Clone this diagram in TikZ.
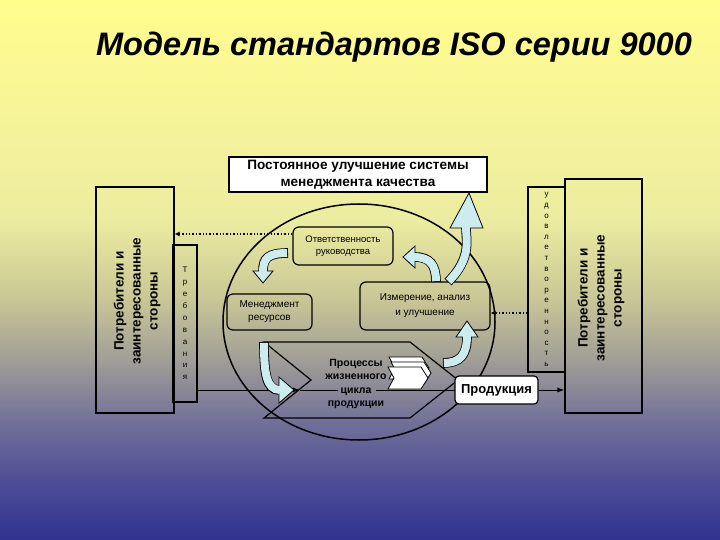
\documentclass[tikz,border=0pt]{standalone}
\usepackage{fontspec}
\setmainfont{Liberation Sans}
\usetikzlibrary{arrows.meta,shapes.geometric}
\definecolor{bgA}{RGB}{255,253,140}
\definecolor{bgB}{RGB}{248,245,152}
\definecolor{bgC}{RGB}{236,236,160}
\definecolor{bgD}{RGB}{200,198,150}
\definecolor{bgE}{RGB}{160,158,150}
\definecolor{bgF}{RGB}{115,113,152}
\definecolor{bgG}{RGB}{78,78,150}
\definecolor{bgH}{RGB}{48,50,145}
\definecolor{afill}{RGB}{204,236,240}
\newcommand{\fatarr}[2]{%
  \draw[line width=9.6pt] #1;
  \filldraw[fill=afill, draw=black, line width=0.8pt, line join=miter] #2;
  \draw[line width=8pt, afill, shorten <=0.8pt, shorten >=-1.2pt] #1;
}
\newcommand{\chev}[2]{%
  \filldraw[fill=white, draw=black, line width=0.8pt] (#1,#2) -- ++(33,0) -- ++(7,11) -- ++(-7,11) -- ++(-33,0) -- ++(6,-11) -- cycle;
}
\tikzset{
  box/.style={draw, line width=1.2pt, inner sep=0pt, align=center},
  rbox/.style={box, rounded corners=6pt},
  dotarrow/.style={dotted, line width=1.4pt, -{Latex[length=5pt,width=5pt]}},
  conn/.style={line width=1pt, -{Latex[length=7pt,width=5pt]}},
}
\begin{document}
\begin{tikzpicture}[x=1pt,y=-1pt]
\useasboundingbox (0,0) rectangle (720,540);
% background
\fill[top color=bgA, bottom color=bgB] (0,0) rectangle (720,100.5);
\fill[top color=bgB, bottom color=bgC] (0,100) rectangle (720,220.5);
\fill[top color=bgC, bottom color=bgD] (0,220) rectangle (720,300.5);
\fill[top color=bgD, bottom color=bgE] (0,300) rectangle (720,360.5);
\fill[top color=bgE, bottom color=bgF] (0,360) rectangle (720,420.5);
\fill[top color=bgF, bottom color=bgG] (0,420) rectangle (720,480.5);
\fill[top color=bgG, bottom color=bgH] (0,480) rectangle (720,540);

\node[font=\fontsize{32.5}{38}\selectfont\bfseries\itshape] (title) at (394,47) {Модель стандартов ISO серии 9000};

% cycle
\node[ellipse, draw, line width=1.5pt, minimum width=272pt, minimum height=236pt, inner sep=0pt] (loop) at (359,322) {};
% process chevron shape
\draw[line width=1.2pt] (264,342) -- (410,342) -- (458,380) -- (410,418) -- (264,418) -- (311,380) -- cycle;

% boxes
\node[box, minimum width=78pt, minimum height=226pt] (leftbox) at (135,300) {};
\node[rotate=90, align=center, font=\fontsize{13.5}{17}\selectfont\bfseries] (lefttext) at (137,301) {Потребители и\\заинтересованные\\стороны};
\node[box, minimum width=24pt, minimum height=157pt, font=\fontsize{8}{11.9}\selectfont] (req) at (185,323.5) {Т\\р\\е\\б\\о\\в\\а\\н\\и\\я};
\node[box, fill=white, minimum width=258pt, minimum height=35pt, font=\fontsize{13.6}{17}\selectfont\bfseries] (top) at (358,174.5) {Постоянное улучшение системы\\менеджмента качества};
\node[rbox, minimum width=100pt, minimum height=38pt, font=\fontsize{9.5}{12}\selectfont] (resp) at (343,246) {Ответственность\\руководства};
\node[rbox, minimum width=85pt, minimum height=36pt, font=\fontsize{10}{13}\selectfont] (res) at (269.5,312) {Менеджмент\\ресурсов};
\node[rbox, minimum width=130pt, minimum height=48pt, font=\fontsize{10}{15}\selectfont] (meas) at (425,306) {Измерение, анализ\\и улучшение};
\node[box, minimum width=37pt, minimum height=185pt, font=\fontsize{8}{10.6}\selectfont] (sat) at (546.5,279.5) {у\\д\\о\\в\\л\\е\\т\\в\\о\\р\\е\\н\\н\\о\\с\\т\\ь};
\node[box, minimum width=77pt, minimum height=234pt] (rightbox) at (603.5,296) {};
\node[rotate=90, align=center, font=\fontsize{13.5}{17}\selectfont\bfseries] (righttext) at (601,298) {Потребители и\\заинтересованные\\стороны};

% flow line (interrupted behind the word "цикла")
\coordinate (ah) at (300,390);
\coordinate (gapl) at (338,390);
\coordinate (gapr) at (376,390);
\draw[conn] (req.east |- ah) -- (ah);
\draw[line width=1pt] (ah) -- (gapl);
\draw[line width=1pt] (gapr) -- (496.5,390);

\node[align=center, font=\fontsize{10.5}{13.5}\selectfont\bfseries] (proc) at (356,384) {Процессы\\жизненного\\цикла\\продукции};
\chev{389}{357}
\chev{391}{362}
\chev{388}{367}

% curved arrows
\fatarr{(288,253) .. controls (268,253) and (263,258) .. (263,271)}{(253,271) -- (273,271) -- (263,283) -- cycle}
\fatarr{(264,342) .. controls (264,372) and (266,390) .. (279,390)}{(279,377) -- (279,403) -- (294,390) -- cycle}
\fatarr{(443,363) .. controls (460,363) and (467,355) .. (467,337)}{(456,337) -- (478,337) -- (467,321) -- cycle}
\fatarr{(436,282) .. controls (436,265) and (430,257) .. (415,257)}{(415,246) -- (415,268) -- (403,257) -- cycle}
\fatarr{(448,282) .. controls (472,258) and (466,240) .. (466,228)}{(450,228) -- (483,228) -- (469,193) -- cycle}

\node[box, fill=white, rounded corners=4pt, minimum width=83pt, minimum height=28pt, font=\fontsize{13}{15}\selectfont\bfseries] (prod) at (496.5,390) {Продукция};

\draw[conn] (prod.east) -- (rightbox.west |- prod.east);
\draw[dotarrow] ([yshift=12pt]resp.west) -- ([yshift=12pt]resp.west -| leftbox.east);
\draw[dotarrow] ([yshift=-7pt]meas.east -| sat.west) -- ([yshift=-7pt]meas.east);
\end{tikzpicture}
\end{document}
